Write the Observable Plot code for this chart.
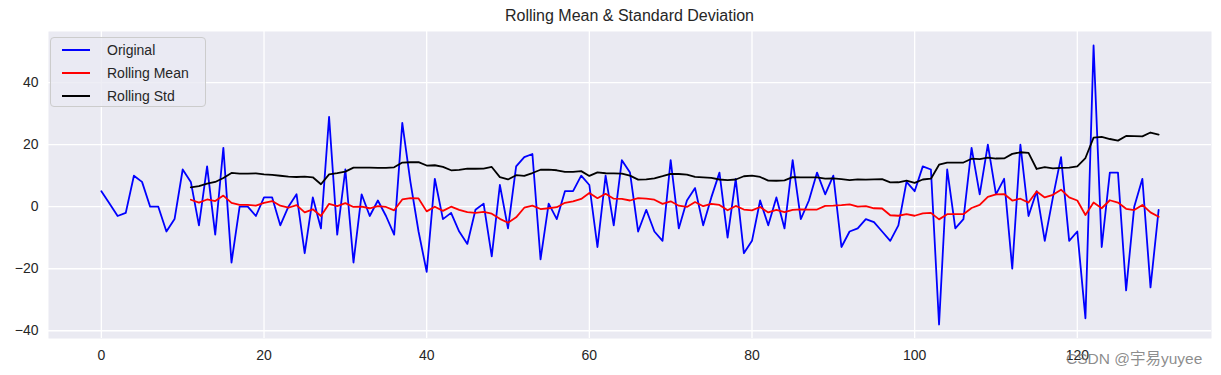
<!DOCTYPE html>
<html>
<head>
<meta charset="utf-8">
<script src="https://cdn.jsdelivr.net/npm/d3@7"></script>
<script src="https://cdn.jsdelivr.net/npm/@observablehq/plot@0.6"></script>
<style>
  html, body { margin: 0; padding: 0; background: #ffffff; }
  #wrap { position: relative; width: 1221px; height: 375px; font-family: "Liberation Sans", Arial, sans-serif; color: #262626; }
  #title { position: absolute; left: 48px; width: 1163px; top: 7px; text-align: center; font-size: 16px; }
  #legend { position: absolute; left: 50px; top: 37px; width: 154px; height: 68px; border: 1px solid #cccccc; border-radius: 4px; background: rgba(234,234,242,0.8); }
  .item { position: absolute; left: 0; height: 20px; width: 154px; font-size: 14px; }
  .item .sw { position: absolute; left: 11px; top: 9px; width: 28px; height: 0; border-top: 2px solid; }
  .item .lb { position: absolute; left: 56px; top: 2px; }
  #wm { position: absolute; left: 1066px; top: 346px; font-size: 15.5px; color: rgba(120,120,120,0.85); font-family: "Liberation Sans", "Noto Sans CJK SC", sans-serif; white-space: nowrap; }
</style>
</head>
<body>
<div id="wrap">
  <div id="chart"></div>
  <div id="title"></div>
  <div id="legend"></div>
  <div id="wm">CSDN @宇易yuyee</div>
</div>
<script>
// ---- data ----
const original = [
  5, 1, -3, -2, 10, 8, 0, 0, -8, -4,
  12, 8, -6, 13, -9, 19, -18, 0, 0, -3,
  3, 3, -6, 0, 4, -15, 3, -7, 29, -9,
  12, -18, 4, -3, 2, -3, -9, 27, 8, -8,
  -21, 9, -4, -2, -8, -12, -1, 1, -16, 7,
  -7, 13, 16, 17, -17, 1, -4, 5, 5, 10,
  7, -13, 10, -6, 15, 11, -8, -1, -8, -11,
  15, -7, 2, 6, -6, 3, 11, -10, 9, -15,
  -11, 2, -6, 3, -7, 15, -4, 2, 11, 4,
  10, -13, -8, -7, -4, -5, -8, -11, -6, 8,
  5, 13, 12, -38, 12, -7, -4, 19, 4, 20,
  4, 9, -20, 20, -3, 5, -11, 3, 16, -11,
  -8, -36, 52, -13, 11, 11, -27, 0, 9, -26,
  -1
];
const windowSize = 12;
const xTicks = [0, 20, 40, 60, 80, 100, 120];
const yTicks = [-40, -20, 0, 20, 40];
const seriesNames = ["Original", "Rolling Mean", "Rolling Std"];
const seriesColors = ["blue", "red", "black"];
const titleText = "Rolling Mean & Standard Deviation";

const data = original.map((v, i) => ({t: i, value: v}));

const chart = Plot.plot({
  width: 1221,
  height: 375,
  marginLeft: 48,
  marginRight: 10,
  marginTop: 31,
  marginBottom: 37,
  style: {fontFamily: '"Liberation Sans", Arial, sans-serif', fontSize: "14px", color: "#262626", background: "transparent"},
  x: {domain: [-6.5, 136.5]},
  y: {domain: [-42.5, 56.5]},
  marks: [
    Plot.frame({fill: "#EAEAF2", stroke: null}),
    Plot.gridX(xTicks, {stroke: "white", strokeOpacity: 1, strokeWidth: 1.3}),
    Plot.gridY(yTicks, {stroke: "white", strokeOpacity: 1, strokeWidth: 1.3}),
    Plot.axisX(xTicks, {tickSize: 0, tickPadding: 12, label: null, fontSize: 14}),
    Plot.axisY(yTicks, {tickSize: 0, tickPadding: 10, label: null, fontSize: 14}),
    Plot.line(data, {x: "t", y: "value", stroke: seriesColors[0], strokeWidth: 1.8}),
    Plot.line(data, Plot.windowY({k: windowSize, anchor: "end", reduce: "mean", strict: true}, {x: "t", y: "value", stroke: seriesColors[1], strokeWidth: 1.8})),
    Plot.line(data, Plot.windowY({k: windowSize, anchor: "end", reduce: "deviation", strict: true}, {x: "t", y: "value", stroke: seriesColors[2], strokeWidth: 1.8}))
  ]
});
document.getElementById("chart").appendChild(chart);
document.getElementById("title").textContent = titleText;

const legend = document.getElementById("legend");
seriesNames.forEach((name, i) => {
  const row = document.createElement("div");
  row.className = "item";
  row.style.top = (2 + i * 23) + "px";
  const sw = document.createElement("div");
  sw.className = "sw";
  sw.style.borderTopColor = seriesColors[i];
  const lb = document.createElement("div");
  lb.className = "lb";
  lb.textContent = name;
  row.appendChild(sw);
  row.appendChild(lb);
  legend.appendChild(row);
});
</script>
</body>
</html>
